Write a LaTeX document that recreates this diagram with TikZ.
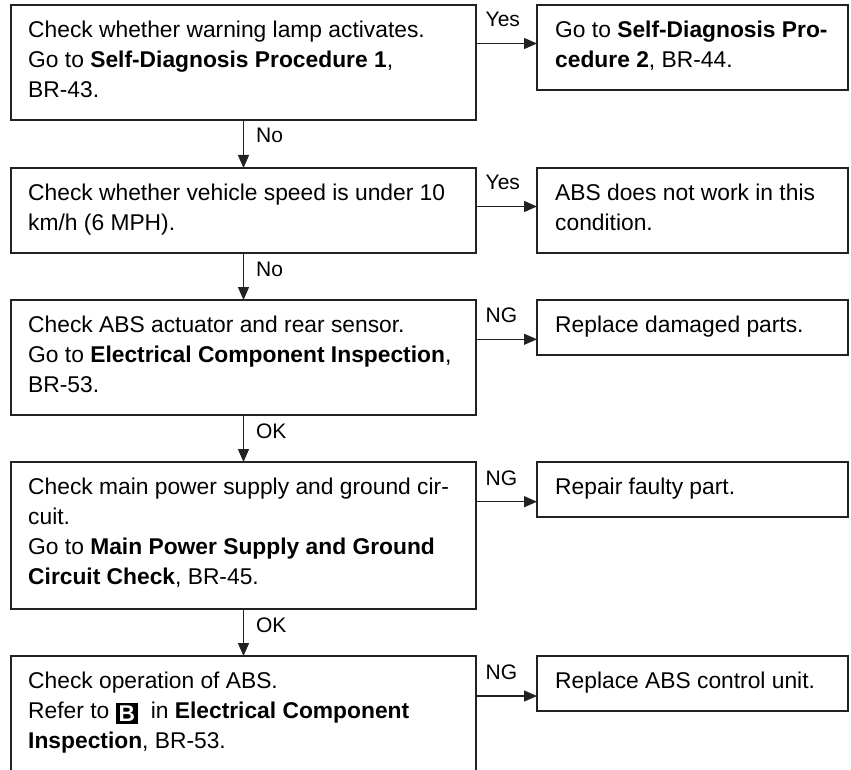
\documentclass[tikz,border=0pt]{standalone}
\usepackage{fontspec}
\setmainfont{Liberation Sans}
\usetikzlibrary{arrows.meta}
\definecolor{ln}{HTML}{222222}
\newcommand\Bicon{\raisebox{-3pt}{\setlength\fboxsep{3pt}\colorbox{black}{\textcolor{white}{\bfseries B}}}}
\begin{document}
\begin{tikzpicture}[x=1pt,y=-1pt,
  box/.style={draw=ln, line width=1.5pt, rectangle, inner sep=0pt, outer sep=0pt, anchor=north west},
  openbox/.style={rectangle, inner sep=0pt, outer sep=0pt, anchor=north west},
  txt/.style={anchor=north west, inner sep=0pt, align=left, font=\fontsize{22.8}{30}\selectfont, text=black},
  lab/.style={inner sep=0pt, font=\fontsize{21}{25}\selectfont, text=black},
  arr/.style={draw=ln, line width=1.3pt, -{Triangle[length=13pt,width=11pt]}}]
\useasboundingbox (0,0) rectangle (851,770);
% left column
\node[box, minimum width=465pt, minimum height=115pt] (b1) at (11,5) {};
\node[box, minimum width=465pt, minimum height=85pt] (b2) at (11,168) {};
\node[box, minimum width=465pt, minimum height=115pt] (b3) at (11,300) {};
\node[box, minimum width=465pt, minimum height=147pt] (b4) at (11,462) {};
\node[openbox, minimum width=465pt, minimum height=116pt] (b5) at (11,656) {};
\draw[draw=ln, line width=1.5pt] (b5.south west) -- (b5.north west) -- (b5.north east) -- (b5.south east);
% right column
\node[box, minimum width=311pt, minimum height=85pt] (r1) at (537,5) {};
\node[box, minimum width=311pt, minimum height=85pt] (r2) at (537,168) {};
\node[box, minimum width=311pt, minimum height=55pt] (r3) at (537,300) {};
\node[box, minimum width=311pt, minimum height=55pt] (r4) at (537,462) {};
\node[box, minimum width=311pt, minimum height=55pt] (r5) at (537,656) {};
% texts
\node[txt] (t1) at ([xshift=17pt,yshift=-11pt]b1.north west) {\strut Check whether warning lamp activates.\\ Go to \textbf{Self-Diagnosis Procedure 1},\\ BR-43.};
\node[txt] (t2) at ([xshift=17pt,yshift=-11pt]b2.north west) {\strut Check whether vehicle speed is under 10\\ km/h (6 MPH).};
\node[txt] (t3) at ([xshift=17pt,yshift=-11pt]b3.north west) {\strut Check ABS actuator and rear sensor.\\ Go to \textbf{Electrical Component Inspection},\\ BR-53.};
\node[txt] (t4) at ([xshift=17pt,yshift=-11pt]b4.north west) {\strut Check main power supply and ground cir-\\ cuit.\\ Go to \textbf{Main Power Supply and Ground}\\ \textbf{Circuit Check}, BR-45.};
\node[txt] (t5) at ([xshift=17pt,yshift=-11pt]b5.north west) {\strut Check operation of ABS.\\ Refer to \Bicon\ \ in \textbf{Electrical Component}\\ \textbf{Inspection}, BR-53.};
\node[txt] (s1) at ([xshift=18pt,yshift=-11pt]r1.north west) {\strut Go to \textbf{Self-Diagnosis Pro-}\\ \textbf{cedure 2}, BR-44.};
\node[txt] (s2) at ([xshift=18pt,yshift=-11pt]r2.north west) {\strut ABS does not work in this\\ condition.};
\node[txt] (s3) at ([xshift=18pt,yshift=-11pt]r3.north west) {\strut Replace damaged parts.};
\node[txt] (s4) at ([xshift=18pt,yshift=-11pt]r4.north west) {\strut Repair faulty part.};
\node[txt] (s5) at ([xshift=18pt,yshift=-11pt]r5.north west) {\strut Replace ABS control unit.};
% vertical connectors
\draw[arr] (b1.south) -- (b2.north) node[lab, pos=0, anchor=base west, xshift=12pt, yshift=-23pt] (v1) {No};
\draw[arr] (b2.south) -- (b3.north) node[lab, pos=0, anchor=base west, xshift=12pt, yshift=-23pt] (v2) {No};
\draw[arr] (b3.south) -- (b4.north) node[lab, pos=0, anchor=base west, xshift=12pt, yshift=-23pt] (v3) {OK};
\draw[arr] (b4.south) -- (b5.north) node[lab, pos=0, anchor=base west, xshift=12pt, yshift=-23pt] (v4) {OK};
% horizontal connectors
\draw[arr] ([yshift=4pt]r1.west -| b1.east) -- ([yshift=4pt]r1.west) node[lab, pos=0, anchor=base west, xshift=9pt, yshift=16.5pt] (h1) {Yes};
\draw[arr] ([yshift=4pt]r2.west -| b2.east) -- ([yshift=4pt]r2.west) node[lab, pos=0, anchor=base west, xshift=9pt, yshift=16.5pt] (h2) {Yes};
\draw[arr] ([yshift=-11.8pt]r3.west -| b3.east) -- ([yshift=-11.8pt]r3.west) node[lab, pos=0, anchor=base west, xshift=9pt, yshift=16.5pt] (h3) {NG};
\draw[arr] ([yshift=-12.2pt]r4.west -| b4.east) -- ([yshift=-12.2pt]r4.west) node[lab, pos=0, anchor=base west, xshift=9pt, yshift=16.5pt] (h4) {NG};
\draw[arr] ([yshift=-12.5pt]r5.west -| b5.east) -- ([yshift=-12.5pt]r5.west) node[lab, pos=0, anchor=base west, xshift=9pt, yshift=16.5pt] (h5) {NG};
\end{tikzpicture}
\end{document}
